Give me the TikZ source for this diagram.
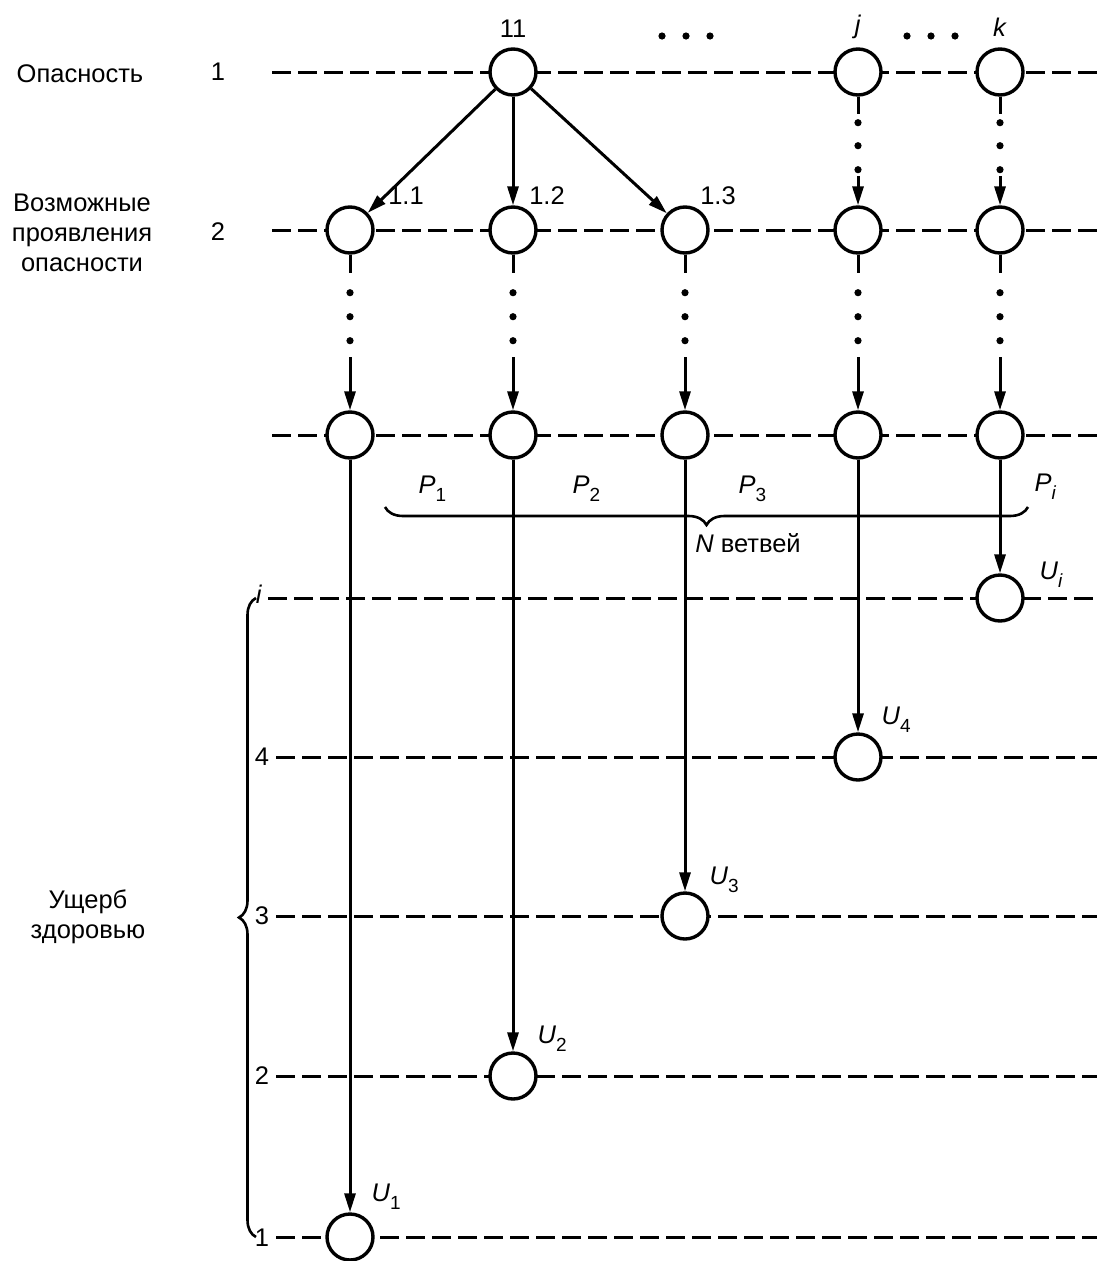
\documentclass[tikz,border=0pt]{standalone}
\usepackage{fontspec}
\setmainfont{Liberation Sans}
\usetikzlibrary{arrows.meta,decorations.pathreplacing,calc}
\newcommand{\lblsub}[2]{\textit{#1}\raisebox{-8pt}{\fontsize{19}{19}\selectfont #2}}
\begin{document}
\begin{tikzpicture}[x=1pt,y=-1pt,
  every node/.style={font=\fontsize{25.5}{30}\selectfont},
  circ/.style={circle,draw,line width=3.4pt,fill=white,minimum size=46pt,inner sep=0pt},
  dashline/.style={line width=3pt,dash pattern=on 19pt off 7pt},
  arr/.style={line width=3pt,-{Triangle[length=19pt,width=11pt]}},
  stem/.style={line width=3pt},
  bracestyle/.style={line width=2.6pt,decorate},
  dotmark/.style={fill=black}
]
\useasboundingbox (0,0) rectangle (1097,1261);

% row lines
\foreach \nm/\xs/\y in {r1/272/72, r2/272/230, r3/272/435, ri/268/598, r4/276/757, rt/276/916, rd/276/1076, ro/276/1237}{
  \coordinate (\nm s) at (\xs,\y);
  \coordinate (\nm e) at (1097,\y);
  \draw[dashline] (\nm s) -- (\nm e);
}

% left texts
\node (t1) at (80,74) {Опасность};
\node (t1n) at (218,72) {1};
\node[align=center] (t2) at (82,233) {Возможные\\проявления\\опасности};
\node (t2n) at (218,232) {2};
\node[align=center] (t3) at (88,917) {Ущерб\\здоровью};
\node (li) at (259,594) {\textit{i}};
\node (l4) at (262,757) {4};
\node (l3) at (262,916) {3};
\node (l2) at (262,1076) {2};
\node (l1) at (262,1238) {1};

% circles
\node[circ] (n11) at (513,72) {};
\node[circ] (nj) at (858,72) {};
\node[circ] (nk) at (1000,72) {};
\node[circ] (a1) at (350,230) {};
\node[circ] (a2) at (513,230) {};
\node[circ] (a3) at (685,230) {};
\node[circ] (a4) at (858,230) {};
\node[circ] (a5) at (1000,230) {};
\node[circ] (b1) at (350,435) {};
\node[circ] (b2) at (513,435) {};
\node[circ] (b3) at (685,435) {};
\node[circ] (b4) at (858,435) {};
\node[circ] (b5) at (1000,435) {};
\node[circ] (ui) at (1000,598) {};
\node[circ] (u4) at (858,757) {};
\node[circ] (u3) at (685,916) {};
\node[circ] (u2) at (513,1076) {};
\node[circ] (u1) at (350,1237) {};

% top labels
\node (l11) at (513,29) {11};
\node (lj) at (858,27) {\textit{j}};
\node (lk) at (1000,27) {\textit{k}};
\foreach \x in {662,686,710,907,931,955}{\fill[dotmark] (\x,36) circle (3.6);}
\node (l1a) at (406,196) {1.1};
\node (l1b) at (547,196) {1.2};
\node (l1c) at (718,196) {1.3};

% arrows from hazard
\draw[arr] (n11) -- (a1);
\draw[arr] (n11) -- (a2);
\draw[arr] (n11) -- (a3);

% dotted connectors row1 -> row2
\foreach \p/\q in {nj/a4, nk/a5}{
  \draw[stem] (\p.south) -- ++(0,17);
  \foreach \d in {26,49,73}{\fill[dotmark] ($(\p.south)+(0,\d)$) circle (3.6);}
  \draw[arr] ($(\q.north)+(0,-29)$) -- (\q.north);
}
% dotted connectors row2 -> row3
\foreach \p/\q in {a1/b1, a2/b2, a3/b3, a4/b4, a5/b5}{
  \draw[stem] (\p.south) -- ++(0,18);
  \foreach \d in {38,62,86}{\fill[dotmark] ($(\p.south)+(0,\d)$) circle (3.6);}
  \draw[arr] ($(\q.north)+(0,-53)$) -- (\q.north);
}

% long arrows
\draw[arr] (b1) -- (u1);
\draw[arr] (b2) -- (u2);
\draw[arr] (b3) -- (u3);
\draw[arr] (b4) -- (u4);
\draw[arr] (b5) -- (ui);

% horizontal brace
\coordinate (hbl) at (385,507);
\coordinate (hbr) at (1028,507);
\draw[bracestyle,decoration={brace,mirror,amplitude=18pt}] (hbl) -- (hbr);
\node (nb) at (748,543) {\textit{N} ветвей};
\node[anchor=west] (p1) at (415,489) {\lblsub{P}{1}};
\node[anchor=west] (p2) at (569,489) {\lblsub{P}{2}};
\node[anchor=west] (p3) at (735,489) {\lblsub{P}{3}};
\node[anchor=west] (pi) at (1031,487) {\lblsub{P}{\textit{i}}};

% vertical brace
\coordinate (vbt) at (256,598);
\coordinate (vbb) at (256,1237);
\draw[bracestyle,decoration={brace,mirror,amplitude=17pt}] (vbt) -- (vbb);

% damage labels
\node[anchor=west] (lui) at (1036,575) {\lblsub{U}{\textit{i}}};
\node[anchor=west] (lu4) at (878,720) {\lblsub{U}{4}};
\node[anchor=west] (lu3) at (706,880) {\lblsub{U}{3}};
\node[anchor=west] (lu2) at (534,1039) {\lblsub{U}{2}};
\node[anchor=west] (lu1) at (368,1197) {\lblsub{U}{1}};
\end{tikzpicture}
\end{document}
